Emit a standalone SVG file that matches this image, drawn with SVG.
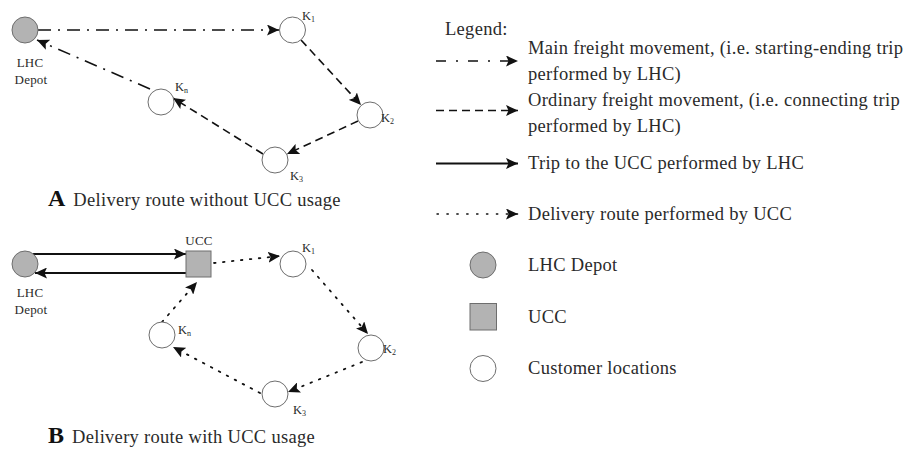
<svg xmlns="http://www.w3.org/2000/svg" width="914" height="452" viewBox="0 0 914 452">
<style>
text{font-family:"Liberation Serif","Times New Roman",serif;fill:#2a2a2a}
.lg{font-size:18.5px;letter-spacing:0.3px}
.lbl{font-size:13px;letter-spacing:0.2px}
.k{font-size:12.5px}
.title{font-size:18.5px;letter-spacing:0.3px}
.big{font-size:24px;font-weight:bold;fill:#111}
.depot{fill:#b3b3b3;stroke:#6e6e6e;stroke-width:1}
.cust{fill:#fff;stroke:#6e6e6e;stroke-width:1}
.ucc{fill:#b3b3b3;stroke:#6e6e6e;stroke-width:1}
.c{fill:none;stroke:#111;stroke-width:1.6}
.dd{stroke-dasharray:13 7 2 7}
.da{stroke-dasharray:8 5}
.so{stroke-width:1.8}
.dt{stroke-dasharray:1.6 7.4;stroke-linecap:round;stroke-width:1.8}
</style>
<defs>
<marker id="ah" markerUnits="userSpaceOnUse" markerWidth="12" markerHeight="11" refX="12" refY="5.5" orient="auto">
<path d="M0,0 L12,5.5 L0,11 L2.5,5.5 z" fill="#111"/>
</marker>
</defs>

<g id="connectors">
<!-- A -->
<line class="c dd" x1="38" y1="30" x2="279" y2="30" marker-end="url(#ah)"/>
<line class="c da" x1="301" y1="40" x2="361" y2="105" marker-end="url(#ah)"/>
<line class="c da" x1="358" y1="121" x2="287" y2="154" marker-end="url(#ah)"/>
<line class="c da" x1="263" y1="154" x2="173" y2="98" marker-end="url(#ah)"/>
<line class="c dd" x1="150" y1="89" x2="37" y2="40" marker-end="url(#ah)"/>
<!-- B -->
<line class="c so" x1="33" y1="254" x2="186" y2="254" marker-end="url(#ah)"/>
<line class="c so" x1="186" y1="273" x2="35" y2="273" marker-end="url(#ah)"/>
<line class="c dt" x1="214" y1="263" x2="280" y2="256" marker-end="url(#ah)"/>
<line class="c dt" x1="312" y1="270" x2="368" y2="334" marker-end="url(#ah)"/>
<line class="c dt" x1="362" y1="362" x2="288" y2="392" marker-end="url(#ah)"/>
<line class="c dt" x1="260" y1="393" x2="173" y2="347" marker-end="url(#ah)"/>
<line class="c dt" x1="162" y1="322" x2="197" y2="282" marker-end="url(#ah)"/>
<!-- legend -->
<line class="c" style="stroke-dasharray:10 10 2 10" x1="436" y1="61" x2="518" y2="61" marker-end="url(#ah)"/>
<line class="c da" x1="436" y1="110.5" x2="518" y2="110.5" marker-end="url(#ah)"/>
<line class="c so" x1="436" y1="163.5" x2="518" y2="163.5" marker-end="url(#ah)"/>
<line class="c dt" x1="437" y1="214" x2="518" y2="214" style="stroke-dasharray:1.4 8.5;stroke-width:1.4" marker-end="url(#ah)"/>
</g>

<!-- Diagram A -->
<g id="a-depot">
<circle class="depot" cx="25" cy="30" r="13"/>
<text class="lbl" x="30" y="67" text-anchor="middle">LHC</text>
<text class="lbl" x="31" y="84" text-anchor="middle">Depot</text>
</g>
<g id="a-k1">
<circle class="cust" cx="292.5" cy="30" r="13"/>
<text class="k" x="302" y="20">K<tspan font-size="8" dy="2">1</tspan></text>
</g>
<g id="a-k2">
<circle class="cust" cx="370" cy="115" r="13"/>
<text class="k" x="381" y="122">K<tspan font-size="8" dy="2">2</tspan></text>
</g>
<g id="a-k3">
<circle class="cust" cx="275" cy="160" r="13"/>
<text class="k" x="290" y="180">K<tspan font-size="8" dy="2">3</tspan></text>
</g>
<g id="a-kn">
<circle class="cust" cx="161" cy="102" r="13"/>
<text class="k" x="175" y="91">K<tspan font-size="8" dy="2">n</tspan></text>
</g>
<g id="a-title">
<text x="48" y="206"><tspan class="big">A</tspan><tspan class="title" dx="8">Delivery route without UCC usage</tspan></text>
</g>

<!-- Diagram B -->
<g id="b-depot">
<circle class="depot" cx="25" cy="264" r="13"/>
<text class="lbl" x="30" y="297" text-anchor="middle">LHC</text>
<text class="lbl" x="31" y="314" text-anchor="middle">Depot</text>
</g>
<g id="b-ucc">
<rect class="ucc" x="186" y="251" width="25" height="26"/>
<text class="lbl" x="199" y="245" text-anchor="middle">UCC</text>
</g>
<g id="b-k1">
<circle class="cust" cx="293" cy="264" r="13"/>
<text class="k" x="302" y="252">K<tspan font-size="8" dy="2">1</tspan></text>
</g>
<g id="b-k2">
<circle class="cust" cx="371" cy="348" r="13"/>
<text class="k" x="383" y="353">K<tspan font-size="8" dy="2">2</tspan></text>
</g>
<g id="b-k3">
<circle class="cust" cx="275" cy="394" r="13"/>
<text class="k" x="293" y="414">K<tspan font-size="8" dy="2">3</tspan></text>
</g>
<g id="b-kn">
<circle class="cust" cx="162" cy="335" r="13"/>
<text class="k" x="178" y="334">K<tspan font-size="8" dy="2">n</tspan></text>
</g>
<g id="b-title">
<text x="48" y="443"><tspan class="big">B</tspan><tspan class="title" dx="8">Delivery route with UCC usage</tspan></text>
</g>

<!-- Legend -->
<g id="legend">
<text class="lg" x="445" y="35">Legend:</text>
<text class="lg" x="528" y="54">Main freight movement, (i.e. starting-ending trip</text>
<text class="lg" x="528" y="80">performed by LHC)</text>
<text class="lg" x="528" y="106">Ordinary freight movement, (i.e. connecting trip</text>
<text class="lg" x="528" y="132">performed by LHC)</text>
<text class="lg" x="528" y="169">Trip to the UCC performed by LHC</text>
<text class="lg" x="528" y="220">Delivery route performed by UCC</text>
<circle class="depot" cx="483" cy="265" r="13"/>
<text class="lg" x="528" y="271">LHC Depot</text>
<rect class="ucc" x="470" y="303.5" width="26.5" height="26.5"/>
<text class="lg" x="528" y="323">UCC</text>
<circle class="cust" cx="483" cy="368.5" r="13"/>
<text class="lg" x="528" y="374">Customer locations</text>
</g>
</svg>
